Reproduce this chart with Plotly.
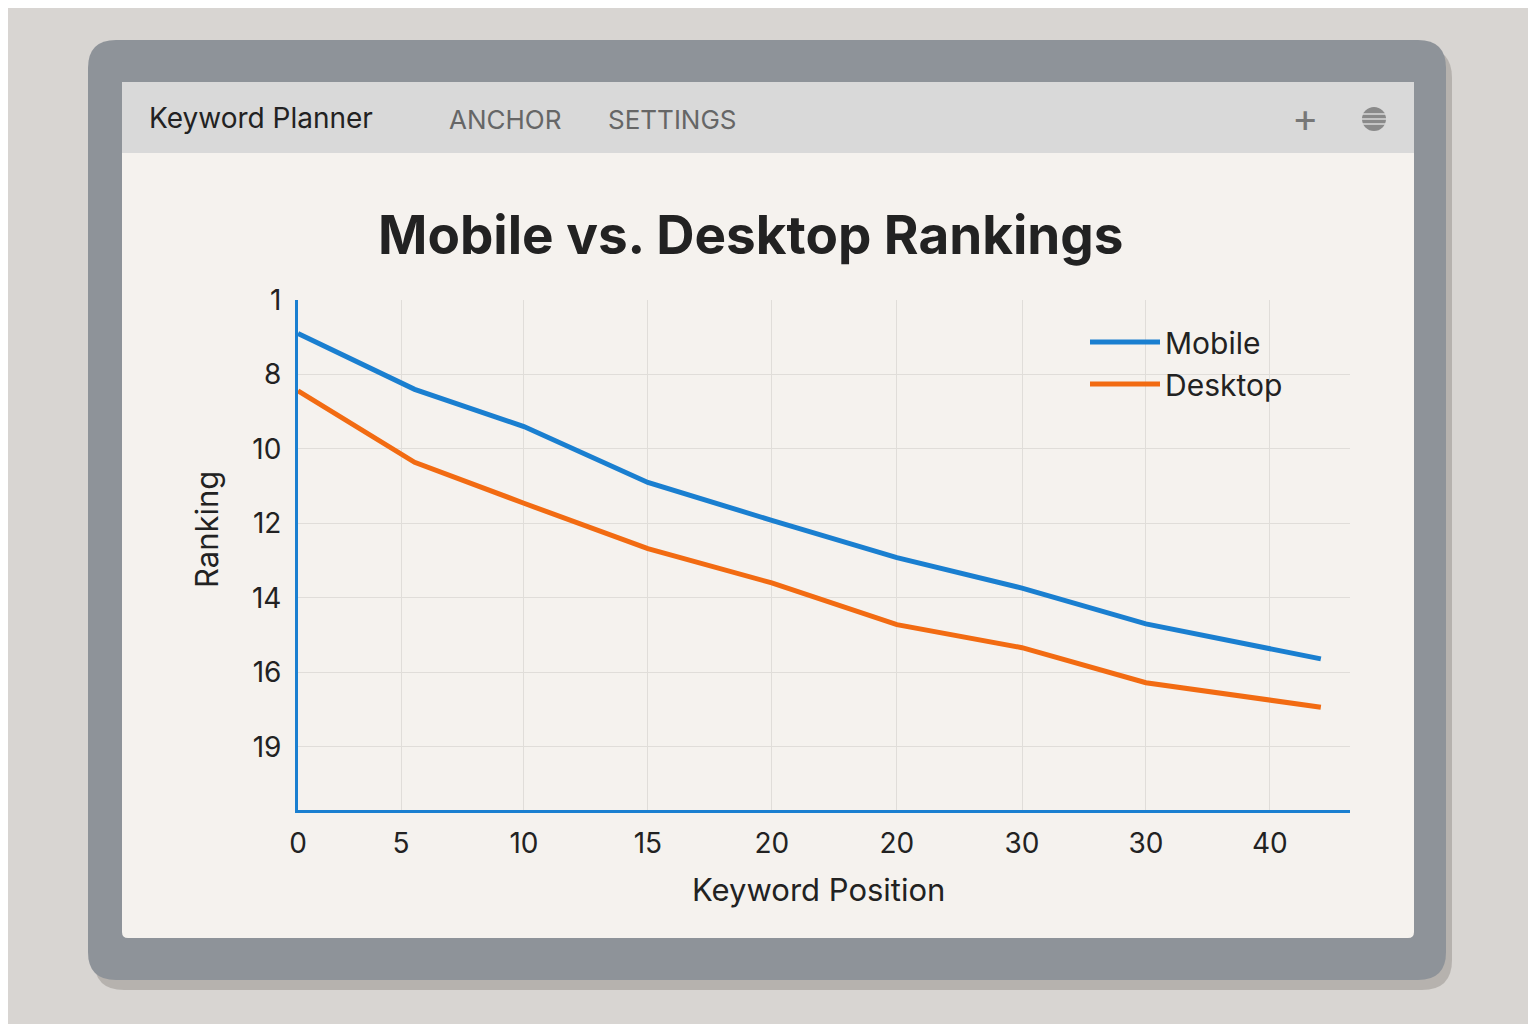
import plotly.graph_objects as go

# Data (x in axis units, y in tick-slot units: 0 = top tick "1")
x_tick_vals = [0, 4.24, 9.3, 14.4, 19.5, 24.65, 29.8, 34.9, 40]
x_tick_text = ['0', '5', '10', '15', '20', '20', '30', '30', '40']
y_tick_vals = [0, 1, 2, 3, 4, 5, 6]
y_tick_text = ['1', '8', '10', '12', '14', '16', '19']

x_points = [0, 4.8, 9.3, 14.4, 19.5, 24.65, 29.8, 34.9, 42.1]
mobile = [0.45, 1.2, 1.7, 2.45, 2.96, 3.46, 3.87, 4.35, 4.82]
desktop = [1.22, 2.18, 2.73, 3.34, 3.8, 4.36, 4.67, 5.14, 5.47]

W, H = 1536, 1024
OFF = 8  # page margin of the html body
L, R, T, B = 298, 1350, 300, 810


def px(x):
    return (x - L) / (R - L)


def py(y):
    return (B - y) / (B - T)


def rect(x0, y0, x1, y1, color):
    return dict(type='rect', xref='paper', yref='paper', layer='below',
                x0=px(x0), x1=px(x1), y0=py(y1), y1=py(y0),
                fillcolor=color, line=dict(width=0))


def rounded(x0, y0, x1, y1, r, color):
    X0, X1, Y0, Y1 = px(x0), px(x1), py(y1), py(y0)
    rx, ry = r / (R - L), r / (B - T)
    path = (f'M {X0 + rx},{Y0} L {X1 - rx},{Y0} Q {X1},{Y0} {X1},{Y0 + ry} '
            f'L {X1},{Y1 - ry} Q {X1},{Y1} {X1 - rx},{Y1} L {X0 + rx},{Y1} '
            f'Q {X0},{Y1} {X0},{Y1 - ry} L {X0},{Y0 + ry} Q {X0},{Y0} {X0 + rx},{Y0} Z')
    return dict(type='path', xref='paper', yref='paper', layer='below', path=path,
                fillcolor=color, line=dict(width=0))


fig = go.Figure()
fig.add_scatter(x=x_points, y=mobile, name='Mobile', mode='lines',
                line=dict(color='#1a7fd0', width=5))
fig.add_scatter(x=x_points, y=desktop, name='Desktop', mode='lines',
                line=dict(color='#f26b12', width=5))

shapes = [
    rounded(94, 48, 1452, 990, 30, 'rgba(120,115,110,0.35)'),
    rounded(88, 40, 1446, 980, 28, '#8e9399'),
    rounded(122, 82, 1414, 938, 6, '#f5f2ee'),
    rect(122, 82, 1414, 153, '#d9d9d9'),
    dict(type='circle', xref='paper', yref='paper', x0=px(1362), x1=px(1386),
         y0=py(131), y1=py(107), fillcolor='#8a8a8a', line=dict(width=0)),
]
for yy in (114, 119, 124):
    shapes.append(dict(type='line', xref='paper', yref='paper', x0=px(1362), x1=px(1386),
                       y0=py(yy), y1=py(yy), line=dict(color='#d9d9d9', width=1.5)))

annotations = [
    dict(text='Keyword Planner', x=px(147), y=py(118), xanchor='left',
         font=dict(size=28, color='#222')),
    dict(text='ANCHOR', x=px(447), y=py(120), xanchor='left',
         font=dict(size=26, color='#666')),
    dict(text='SETTINGS', x=px(606), y=py(120), xanchor='left',
         font=dict(size=26, color='#666')),
    dict(text='+', x=px(1305), y=py(118), font=dict(size=40, color='#777')),
    dict(text='<b>Mobile vs. Desktop Rankings</b>', x=px(750), y=py(235),
         font=dict(size=53, color='#222')),
    dict(text='Keyword Position', x=px(818), y=py(889),
         font=dict(size=31, color='#222')),
    dict(text='Ranking', x=px(206), y=py(530), textangle=-90,
         font=dict(size=31, color='#222')),
]
for a in annotations:
    a.update(xref='paper', yref='paper', showarrow=False, yanchor='middle')
    a.setdefault('xanchor', 'center')

fig.update_layout(
    width=W, height=H,
    margin=dict(l=L - OFF, r=W - R + OFF, t=T - OFF, b=H - B + OFF, pad=0),
    paper_bgcolor='#d8d5d2',
    plot_bgcolor='#f5f2ee',
    font=dict(family='Inter, Noto Sans, sans-serif', color='#222'),
    shapes=shapes,
    annotations=annotations,
    showlegend=True,
    legend=dict(x=px(1085), y=py(316), xanchor='left', yanchor='top',
                bgcolor='rgba(0,0,0,0)', font=dict(size=30, color='#222'),
                itemwidth=70, tracegroupgap=14),
    xaxis=dict(range=[0, 43.3], tickvals=x_tick_vals, ticktext=x_tick_text,
               tickfont=dict(size=28), showgrid=True, gridcolor='#e0ddd9',
               zeroline=False, showline=True, linecolor='#1a7fd0', linewidth=3,
               ticks='', ticklabelstandoff=6),
    yaxis=dict(range=[6.85, 0], tickvals=y_tick_vals, ticktext=y_tick_text,
               tickfont=dict(size=28), showgrid=True, gridcolor='#e0ddd9',
               zeroline=False, showline=True, linecolor='#1a7fd0', linewidth=3,
               ticks='', ticklabelstandoff=8),
)

fig.write_html('out.html')
